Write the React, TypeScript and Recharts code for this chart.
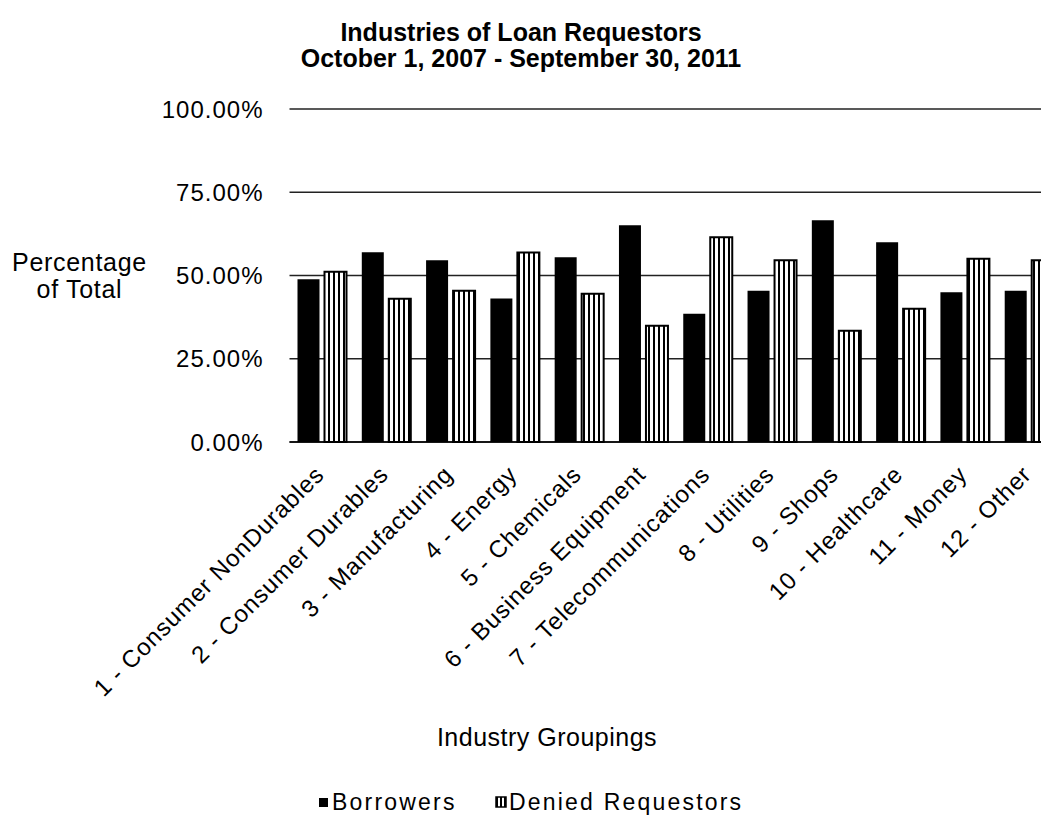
import React from "react"
import { BarChart, Bar, XAxis, YAxis, CartesianGrid } from "recharts"

const categories = [
  "1 - Consumer NonDurables",
  "2 - Consumer Durables",
  "3 - Manufacturing",
  "4 - Energy",
  "5 - Chemicals",
  "6 - Business Equipment",
  "7 - Telecommunications",
  "8 - Utilities",
  "9 - Shops",
  "10 - Healthcare",
  "11 - Money",
  "12 - Other",
]
const borrowers = [48.9, 57.0, 54.6, 43.1, 55.5, 65.1, 38.5, 45.4, 66.6, 60.0, 45.0, 45.4]
const denied = [51.1, 43.0, 45.4, 56.9, 44.5, 34.9, 61.5, 54.6, 33.4, 40.0, 55.0, 54.6]
const yTicks = [0, 25, 50, 75, 100]

const data = categories.map((name, i) => ({ name, borrowers: borrowers[i], denied: denied[i] }))

const FONT = "'Liberation Sans', Arial, sans-serif"

const AngledTick = (props: any) => {
  const { x, y, payload } = props
  return (
    <g transform={`translate(${x + 4},${y + 34})`}>
      <text textAnchor="end" transform="rotate(-45)" fontSize={24} letterSpacing={0.9} fontFamily={FONT} fill="#000">
        {payload.value}
      </text>
    </g>
  )
}

const PctTick = (props: any) => {
  const { x, y, payload } = props
  return (
    <text x={x} y={y} dy="0.36em" textAnchor="end" fontSize={24} letterSpacing={1} fontFamily={FONT} fill="#000">
      {payload.value.toFixed(2)}%
    </text>
  )
}

export default function App() {
  return (
    <div style={{ position: "relative", width: 1041, height: 810, overflow: "hidden", background: "#fff", fontFamily: FONT }}>
      <BarChart
        width={1075}
        height={740}
        data={data}
        margin={{ top: 101, right: 22, left: 0, bottom: 0 }}
        barSize={22}
        barGap={5}
      >
        <defs>
          <pattern id="vstripe" patternUnits="userSpaceOnUse" width={5} height={5}>
            <rect x={0} y={0} width={5} height={5} fill="#fff" />
            <rect x={0} y={0} width={2} height={5} fill="#000" />
          </pattern>
        </defs>
        <CartesianGrid vertical={false} stroke="#222" strokeWidth={1.5} />
        <XAxis
          dataKey="name"
          interval={0}
          tickLine={false}
          tickSize={0}
          tickMargin={0}
          height={306}
          axisLine={{ stroke: "#000", strokeWidth: 1.5 }}
          tick={<AngledTick />}
        />
        <YAxis
          width={281.5}
          domain={[0, 100]}
          ticks={yTicks}
          axisLine={false}
          tickLine={false}
          tickSize={0}
          tickMargin={26}
          tick={<PctTick />}
        />
        <Bar dataKey="borrowers" name="Borrowers" fill="#000" isAnimationActive={false} />
        <Bar dataKey="denied" name="Denied Requestors" fill="url(#vstripe)" stroke="#000" strokeWidth={2} isAnimationActive={false} />
      </BarChart>
      <svg width={1041} height={810} style={{ position: "absolute", left: 0, top: 0, pointerEvents: "none" }}>
        <defs>
          <pattern id="legstripe" patternUnits="userSpaceOnUse" width={4} height={4}>
            <rect x={0} y={0} width={4} height={4} fill="#fff" />
            <rect x={0} y={0} width={2} height={4} fill="#000" />
          </pattern>
        </defs>
        <g fontFamily={FONT} fill="#000">
          <text x={513} y={33} textAnchor="middle" fontSize={25} fontWeight="bold">Industries of Loan Requestors</text>
          <text x={513} y={59} textAnchor="middle" fontSize={25} fontWeight="bold">October 1, 2007 - September 30, 2011</text>
          <text x={71.5} y={263} textAnchor="middle" fontSize={25} letterSpacing={0.7}>Percentage</text>
          <text x={71.5} y={290} textAnchor="middle" fontSize={25} letterSpacing={0.7}>of Total</text>
          <text x={539} y={738} textAnchor="middle" fontSize={25} letterSpacing={0.5}>Industry Groupings</text>
          <rect x={311} y={790} width={9} height={9} fill="#000" />
          <text x={324} y={802} fontSize={23} letterSpacing={2.2}>Borrowers</text>
          <rect x={488} y={789} width={10} height={10} fill="url(#legstripe)" stroke="#000" strokeWidth={1.5} />
          <text x={501} y={802} fontSize={23} letterSpacing={2.2}>Denied Requestors</text>
        </g>
      </svg>
    </div>
  )
}
